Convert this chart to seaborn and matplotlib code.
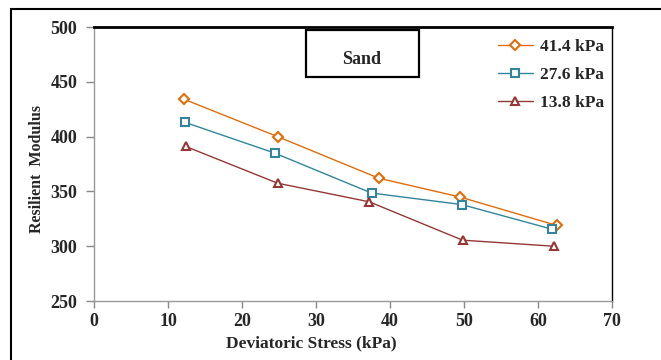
import matplotlib
matplotlib.use("Agg")
import matplotlib.pyplot as plt
import seaborn as sns
import pandas as pd
from matplotlib.patches import Rectangle

# Data
series_labels = ["41.4 kPa", "27.6 kPa", "13.8 kPa"]
x_414 = [12.2, 24.8, 38.5, 49.4, 62.5]
y_414 = [434, 400, 362, 345, 319]
x_276 = [12.3, 24.4, 37.5, 49.7, 61.9]
y_276 = [413, 385, 348.5, 338, 315.5]
x_138 = [12.4, 24.8, 37.2, 49.8, 62.1]
y_138 = [391, 357.5, 340.5, 305.5, 300]
colors = ["#E36C0A", "#31859C", "#953735"]
markers = ["D", "s", "^"]

df = pd.concat([
    pd.DataFrame({"x": x_414, "y": y_414, "s": series_labels[0]}),
    pd.DataFrame({"x": x_276, "y": y_276, "s": series_labels[1]}),
    pd.DataFrame({"x": x_138, "y": y_138, "s": series_labels[2]}),
])

sns.set_theme(style="white")
plt.rcParams["font.family"] = ["Liberation Serif", "DejaVu Serif"]

fig = plt.figure(figsize=(6.61, 3.6), dpi=100)
ax = fig.add_axes([94/661, 1-301/360, (612-94)/661, (301-27)/360])

for lab, c, m in zip(series_labels, colors, markers):
    sub = df[df["s"] == lab]
    sns.lineplot(data=sub, x="x", y="y", ax=ax, color=c, marker=m,
                 markersize=6 if m != "D" else 5, markerfacecolor="white",
                 markeredgecolor=c, markeredgewidth=1.5, linewidth=1.0,
                 label=lab, sort=False)

ax.set_xlim(0, 70)
ax.set_ylim(250, 500)
ax.set_xticks(range(0, 71, 10))
ax.set_yticks(range(250, 501, 50))
ax.tick_params(axis="both", which="both", length=5, width=1, color="#888888",
               labelsize=13, direction="out", bottom=True, left=True)
ax.tick_params(axis="x", pad=4)
ax.tick_params(axis="y", pad=6, length=6)
for lbl in ax.get_xticklabels() + ax.get_yticklabels():
    lbl.set_fontweight("bold")

ax.set_xlabel("Deviatoric Stress (kPa)", fontsize=12.5, fontweight="bold")
ax.xaxis.set_label_coords((311-94)/518, -0.125)
ax.set_ylabel("Resilient  Modulus", fontsize=11.5, fontweight="bold")
ax.yaxis.set_label_coords(-(94-45)/518, 0.48)

for s in ["left", "bottom"]:
    ax.spines[s].set_color("#999999")
    ax.spines[s].set_linewidth(1.0)
ax.spines["right"].set_color("black")
ax.spines["right"].set_linewidth(1.0)
ax.spines["top"].set_color("black")
ax.spines["top"].set_linewidth(2.0)

leg = ax.legend(loc="upper right", bbox_to_anchor=(1.014, 1.012), frameon=False,
                prop={"weight": "bold", "size": 12.5}, handlelength=2.0,
                labelspacing=0.68, handletextpad=0.4)

# Sand label box
ax.add_patch(Rectangle(((306-94)/518, (301-77)/274), (419-306)/518, (77-30)/274,
                       transform=ax.transAxes, facecolor="white", edgecolor="black",
                       linewidth=1.6, zorder=5))
ax.text((362-94)/518, (301-60)/274, "Sand", transform=ax.transAxes, ha="center", va="center",
        fontsize=13, fontweight="bold", zorder=6)

# Outer figure frame (right and bottom edges lie beyond the picture)
fig.patches.append(Rectangle((11/661, -0.05), 1.0, 1.05 - 9/360, transform=fig.transFigure,
                             fill=False, edgecolor="black", linewidth=1.5))

fig.savefig("out.png", dpi=100)
